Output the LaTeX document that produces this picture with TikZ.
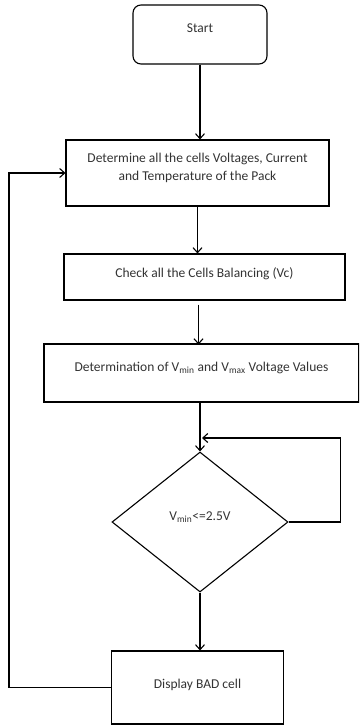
\documentclass[tikz,border=0pt]{standalone}
\usepackage{fontspec}
\setmainfont{Carlito}
\usetikzlibrary{shapes.geometric, arrows.meta, positioning}
\tikzset{
    base/.style = {
        draw=black, line width=1.1pt, text centered, inner sep=2pt,
        font=\fontsize{13.5}{18}\selectfont, text=black!80
    },
    % Components
    startend/.style = {base, rectangle, rounded corners=8pt},
    process/.style  = {base, rectangle, align=center},
    decision/.style = {base, diamond, inner sep=0pt},
    % Edges
    arrow/.style = {line width=1.1pt, -{Straight Barb[length=5pt, width=9pt]}},
    line/.style  = {line width=1.1pt}
}

\begin{document}
\begin{tikzpicture}[x=1pt, y=-1pt]
    \useasboundingbox (0,0) rectangle (359,726);
    \clip (0,0) rectangle (359,726);

    \node (start) [startend, minimum width=134pt, minimum height=59pt, text depth=12pt] at (200,34.5) {Start};

    \node (measure) [process, minimum width=263pt, minimum height=66pt, text depth=12pt] at (197.5,173)
        {Determine all the cells Voltages, Current\\and Temperature of the Pack};

    \node (balance) [process, minimum width=281pt, minimum height=46pt, text depth=8pt] at (204.5,277)
        {Check all the Cells Balancing (Vc)};

    \node (limits) [process, minimum width=315pt, minimum height=58pt, text depth=12pt] at (201.5,373)
        {Determination of V\textsubscript{min} and V\textsubscript{max} Voltage Values};

    \node (check) [decision, minimum width=176pt, minimum height=140pt, text depth=12pt] at (200,522)
        {V\textsubscript{min}<=2.5V};

    \node (bad) [process, minimum width=172pt, minimum height=73pt, text depth=8pt] at (197.5,687.5)
        {Display BAD cell};

    \coordinate (join) at (200,438);

    \draw [arrow] (start) -- (start |- measure.north);
    \draw [arrow] (measure) -- (measure |- balance.north);
    \draw [arrow] (balance.south) ++(-6,4) -- ++(0,40);
    \draw [line] (limits.south -| join) -- (join);
    \draw [arrow] (join) -- (check.north);
    \draw [arrow] (check.east) -- ++(52,0) |- ([xshift=2pt]join);
    \draw [arrow] (check.south) -- (check.south |- bad.north);
    \draw [arrow] (bad.west) -- ++(-102,0) |- (measure.west);
\end{tikzpicture}
\end{document}
